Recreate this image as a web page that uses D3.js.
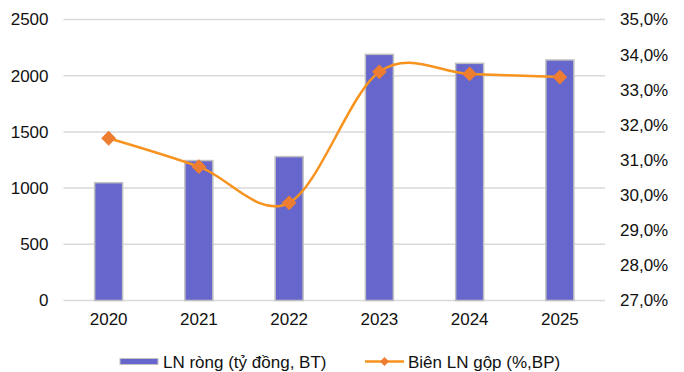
<!DOCTYPE html>
<html>
<head>
<meta charset="utf-8">
<script src="https://cdn.jsdelivr.net/npm/d3@7"></script>
<style>
  html, body { margin: 0; padding: 0; background: #fff; }
  svg { display: block; font-family: "Liberation Sans", Arial, sans-serif; }
</style>
</head>
<body>
<svg id="chart" width="684" height="372"></svg>
<script>
// Net profit (bars, left axis) and gross margin (line, right axis)
const years = ["2020", "2021", "2022", "2023", "2024", "2025"];
const netProfit = [1048, 1245, 1280, 2190, 2110, 2140];
const grossMargin = [31.62, 30.81, 29.78, 33.51, 33.45, 33.36];
const leftTicks = [0, 500, 1000, 1500, 2000, 2500];
const rightTicks = [27, 28, 29, 30, 31, 32, 33, 34, 35];
const seriesNames = ["LN ròng (tỷ đồng, BT)", "Biên LN gộp (%,BP)"];

const svg = d3.select("#chart");
const margin = { left: 63.5, right: 79, top: 19.5, bottom: 71.5 };
const W = 684, H = 372;
const x0 = margin.left, x1 = W - margin.right;
const y0 = H - margin.bottom, y1 = margin.top;

const x = d3.scaleBand().domain(years).range([x0, x1]).paddingInner(0.69).paddingOuter(0.345);
const yL = d3.scaleLinear().domain([0, 2500]).range([y0, y1]);
const yR = d3.scaleLinear().domain([27, 35]).range([y0, y1]);
const fmtPct = v => d3.format(".1f")(v).replace(".", ",") + "%";

// gridlines
svg.append("g").selectAll("line").data(leftTicks).join("line")
  .attr("x1", x0).attr("x2", x1)
  .attr("y1", d => yL(d)).attr("y2", d => yL(d))
  .attr("stroke", "#d9d9d9").attr("stroke-width", 1.5);

// left axis
const axL = svg.append("g").attr("transform", `translate(${x0},0)`)
  .call(d3.axisLeft(yL).tickValues(leftTicks).tickFormat(d3.format("d")).tickSize(0).tickPadding(15));
axL.select(".domain").remove();
axL.selectAll("text").attr("font-size", 17).attr("fill", "#111").attr("font-family", "Liberation Sans, Arial, sans-serif");

// right axis
const axR = svg.append("g").attr("transform", `translate(${x1},0)`)
  .call(d3.axisRight(yR).tickValues(rightTicks).tickFormat(fmtPct).tickSize(0).tickPadding(15));
axR.select(".domain").remove();
axR.selectAll("text").attr("font-size", 17).attr("fill", "#111").attr("font-family", "Liberation Sans, Arial, sans-serif");

// bottom axis labels
const axB = svg.append("g").attr("transform", `translate(0,${y0})`)
  .call(d3.axisBottom(x).tickSize(0).tickPadding(12));
axB.select(".domain").remove();
axB.selectAll("text").attr("font-size", 17).attr("fill", "#111").attr("font-family", "Liberation Sans, Arial, sans-serif");

// bars
svg.append("g").selectAll("rect").data(years).join("rect")
  .attr("x", d => x(d))
  .attr("width", x.bandwidth())
  .attr("y", (d, i) => yL(netProfit[i]))
  .attr("height", (d, i) => yL(0) - yL(netProfit[i]))
  .attr("fill", "#6666cc")
  .attr("stroke", "#c0c0c0").attr("stroke-width", 1.5);

// smoothed margin line
const cx = d => x(d) + x.bandwidth() / 2;
const line = d3.line().x(d => d[0]).y(d => d[1]).curve(d3.curveCardinal.tension(0));
const pts = years.map((d, i) => [cx(d), yR(grossMargin[i])]);
svg.append("path").attr("d", line(pts))
  .attr("fill", "none").attr("stroke", "#f7931e").attr("stroke-width", 2.5);

svg.append("g").selectAll("path").data(pts).join("path")
  .attr("transform", d => `translate(${d[0]},${d[1]}) rotate(45)`)
  .attr("d", d3.symbol().type(d3.symbolSquare).size(110)())
  .attr("fill", "#ed7d31");

// legend
const lg = svg.append("g").attr("font-size", 17).attr("fill", "#111");
lg.append("rect").attr("x", 120).attr("y", 358.5).attr("width", 38).attr("height", 6)
  .attr("fill", "#6666cc").attr("stroke", "#c0c0c0").attr("stroke-width", 1);
lg.append("text").attr("x", 163).attr("y", 367.5).text(seriesNames[0]);
lg.append("line").attr("x1", 365).attr("x2", 404).attr("y1", 361.5).attr("y2", 361.5)
  .attr("stroke", "#f7931e").attr("stroke-width", 2.5);
lg.append("path").attr("transform", "translate(384.5,361.5) rotate(45)")
  .attr("d", d3.symbol().type(d3.symbolSquare).size(40)()).attr("fill", "#ed7d31");
lg.append("text").attr("x", 408).attr("y", 367.5).text(seriesNames[1]);
</script>
</body>
</html>
